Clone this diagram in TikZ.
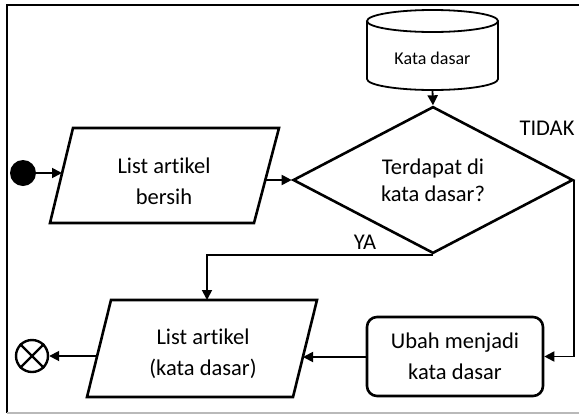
\documentclass[tikz,border=0pt]{standalone}
\usepackage{fontspec}
\setmainfont{Carlito}[Ligatures=NoCommon]
\usetikzlibrary{arrows.meta,shapes.geometric}
\begin{document}
\begin{tikzpicture}[x=1pt,y=-1pt,
  shapeline/.style={line width=2.6pt,line join=miter},
  conn/.style={line width=1.8pt,-{Triangle[length=10pt,width=10pt]}},
  label/.style={font=\fontsize{22.5}{31}\selectfont,align=center,inner sep=0pt},
  small/.style={font=\fontsize{18}{22}\selectfont,inner sep=0pt}]
\useasboundingbox (0,0) rectangle (579,416);

% outer frame
\draw[line width=1.6pt] (579,5) -- (7,5) -- (7,413);
\draw[line width=1.4pt,gray!55] (7,413) -- (579,413);

% data store "Kata dasar"
\draw[line width=1.8pt] (432.5,21) ellipse [x radius=65.5pt,y radius=11pt];
\draw[line width=1.8pt] (367,21) -- (367,79)
  arc[start angle=180,end angle=360,x radius=65.5pt,y radius=11pt] -- (498,21);
\node[small,minimum width=131pt,minimum height=80pt] (db) at (432.5,50) {};
\node[small] (dbtext) at (432.5,58) {Kata dasar};

% decision
\node[draw,shapeline,diamond,minimum width=280pt,minimum height=146pt,
  inner sep=0pt,label,font=\fontsize{22.5}{27}\selectfont] (dec) at (433,180)
  {Terdapat di\\kata dasar?};

% input: list of clean articles
\draw[shapeline] (73,128) -- (279,128) -- (254,223) -- (50,223) -- cycle;
\node[label] (p1) at (164,181) {List artikel\\bersih};
\coordinate (p1in) at (62,173);
\coordinate (p1out) at (265,180);

% output: list of articles as root words
\draw[shapeline] (111,300) -- (317,300) -- (293,397) -- (87,397) -- cycle;
\node[label] (p2) at (203,354) {List artikel\\(kata dasar)};
\coordinate (p2top) at (207,300);
\coordinate (p2right) at (303,357);
\coordinate (p2left) at (97,356);

% process
\node[draw,shapeline,rectangle,rounded corners=10pt,minimum width=176pt,
  minimum height=79pt,label] (conv) at (455,356.5) {Ubah menjadi\\kata dasar};

% start and end
\node[circle,fill=black,minimum size=26pt,inner sep=0pt] (start) at (23,173) {};
\node[circle,draw,line width=2.4pt,minimum size=32pt,inner sep=0pt] (stop) at (32,356) {};
\draw[line width=2.4pt] (stop.north west) -- (stop.south east)
  (stop.north east) -- (stop.south west);

% connectors
\draw[conn] (start) -- (p1in);
\draw[conn] (p1out) -- (dec.west);
\draw[conn] (db.south) -- (dec.north);
\draw[conn] (dec.east) -- (dec.east |- conv.east) -- (conv.east);
\draw[conn] (dec.south) -- (p2top |- dec.south) -- (p2top);
\draw[conn] (conv.west |- p2right) -- (p2right);
\draw[conn] (p2left) -- (stop);

% branch labels
\node[label] (no) at (547,128) {TIDAK};
\node[label] (yes) at (365,242) {YA};
\end{tikzpicture}
\end{document}
